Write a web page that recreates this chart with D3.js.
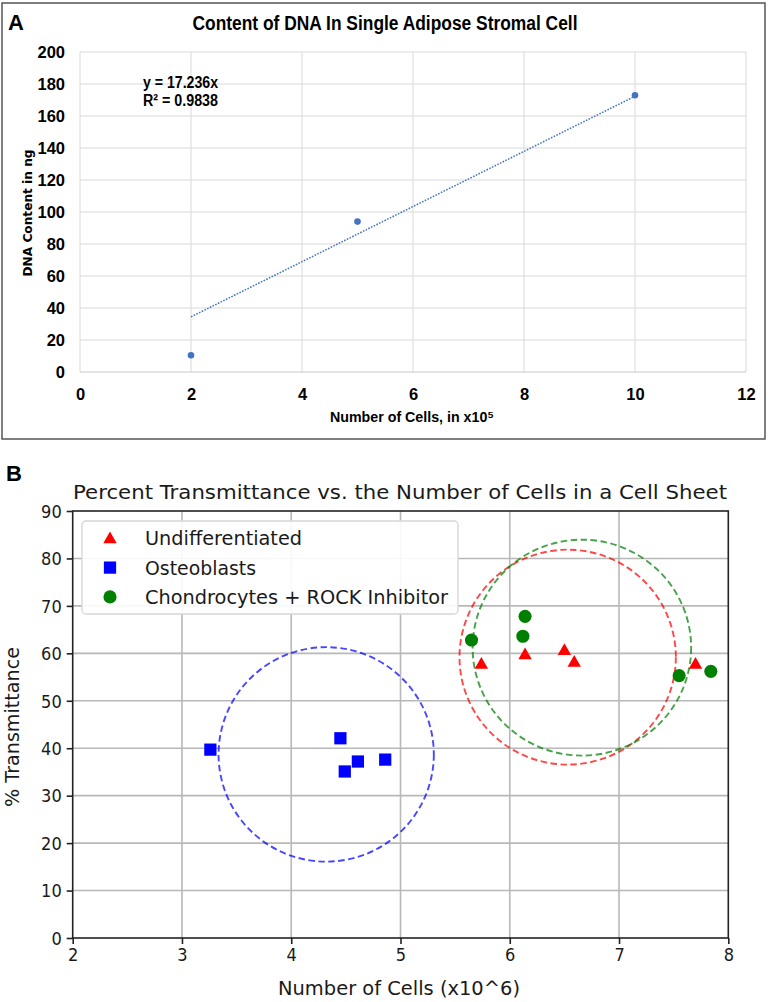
<!DOCTYPE html>
<html>
<head>
<meta charset="utf-8">
<script src="https://cdn.jsdelivr.net/npm/d3@7"></script>
<style>
  html, body { margin: 0; padding: 0; background: #fff; }
  svg { display: block; }
</style>
</head>
<body>
<svg id="chart" width="768" height="1002"></svg>
<script>
// ---------- Panel A data ----------
const aCells = [2, 5, 10];
const aDNA = [10.5, 94, 173];
const aSlope = 17.236;
const aTrendX = [2, 10];
const aXTicks = [0, 2, 4, 6, 8, 10, 12];
const aYTicks = [0, 20, 40, 60, 80, 100, 120, 140, 160, 180, 200];
const aTitle = "Content of DNA In Single Adipose Stromal Cell";
const aXLabel = "Number of Cells, in x10⁵";
const aYLabel = "DNA Content in ng";
const aEquation = ["y = 17.236x", "R² = 0.9838"];

// ---------- Panel B data ----------
const bSeries = ["Undifferentiated", "Osteoblasts", "Chondrocytes + ROCK Inhibitor"];
const bColors = ["#ff0000", "#0000ff", "#008000"];
const undiffX = [5.74, 6.14, 6.50, 6.59, 7.70];
const undiffY = [57.8, 59.8, 60.7, 58.2, 57.8];
const osteoX = [3.26, 4.45, 4.49, 4.61, 4.86];
const osteoY = [39.7, 42.1, 35.1, 37.2, 37.6];
const chondroX = [5.65, 6.12, 6.14, 7.55, 7.84];
const chondroY = [62.8, 63.6, 67.8, 55.3, 56.2];
// dashed rings: [Undifferentiated, Osteoblasts, Chondrocytes]
const ringCx = [6.53, 4.32, 6.66];
const ringCy = [59.2, 38.7, 61.2];
const ringRx = [0.99, 0.985, 1.0];
const ringRy = [22.65, 22.6, 22.75];
const bXTicks = [2, 3, 4, 5, 6, 7, 8];
const bYTicks = [0, 10, 20, 30, 40, 50, 60, 70, 80, 90];
const bTitle = "Percent Transmittance vs. the Number of Cells in a Cell Sheet";
const bXLabel = "Number of Cells (x10^6)";
const bYLabel = "% Transmittance";

const svg = d3.select("#chart");

// =================== PANEL A ===================
const fontA = "'Liberation Sans Narrow', 'Liberation Sans', Arial, sans-serif";
const gA = svg.append("g");
gA.append("rect").attr("x", 2).attr("y", 3).attr("width", 763).attr("height", 436)
  .attr("fill", "none").attr("stroke", "#555").attr("stroke-width", 1.5);

const xA = d3.scaleLinear().domain([0, 12]).range([80, 746]);
const yA = d3.scaleLinear().domain([0, 200]).range([372, 52]);

// gridlines
gA.append("g").selectAll("line").data(aXTicks).join("line")
  .attr("x1", d => xA(d)).attr("x2", d => xA(d))
  .attr("y1", yA(0)).attr("y2", yA(200))
  .attr("stroke", "#d9d9d9").attr("stroke-width", 1);
gA.append("g").selectAll("line").data(aYTicks).join("line")
  .attr("x1", xA(0)).attr("x2", xA(12))
  .attr("y1", d => yA(d)).attr("y2", d => yA(d))
  .attr("stroke", d => d === 0 ? "#c8c8c8" : "#d9d9d9").attr("stroke-width", 1);

// axes labels via d3 axis (no lines)
const axA_y = d3.axisLeft(yA).tickValues(aYTicks).tickSize(0).tickPadding(15);
const gyA = gA.append("g").attr("transform", `translate(${xA(0)},0)`).call(axA_y);
gyA.select(".domain").remove();
gyA.selectAll("text").attr("font-family", fontA).attr("font-weight", "bold")
  .attr("font-size", 16.5).attr("fill", "#000");

const axA_x = d3.axisBottom(xA).tickValues(aXTicks).tickSize(0).tickPadding(16);
const gxA = gA.append("g").attr("transform", `translate(0,${yA(0)})`).call(axA_x);
gxA.select(".domain").remove();
gxA.selectAll("text").attr("font-family", fontA).attr("font-weight", "bold")
  .attr("font-size", 16.5).attr("fill", "#000");

// trendline
gA.append("line")
  .attr("x1", xA(aTrendX[0])).attr("y1", yA(aSlope * aTrendX[0]))
  .attr("x2", xA(aTrendX[1])).attr("y2", yA(aSlope * aTrendX[1]))
  .attr("stroke", "#4472c4").attr("stroke-width", 1.5).attr("stroke-dasharray", "1.6,1.4");

// points
gA.append("g").selectAll("circle").data(aCells).join("circle")
  .attr("cx", d => xA(d)).attr("cy", (d, i) => yA(aDNA[i])).attr("r", 3.3)
  .attr("fill", "#4472c4");

// texts
gA.append("text").attr("x", 8).attr("y", 30).text("A")
  .attr("font-family", "'Liberation Sans', Arial, sans-serif").attr("font-weight", "bold")
  .attr("font-size", 22).attr("fill", "#000");
gA.append("text").attr("x", 385).attr("y", 23).attr("dominant-baseline", "central")
  .attr("text-anchor", "middle").text(aTitle)
  .attr("font-family", fontA).attr("font-weight", "bold").attr("font-size", 19.5)
  .attr("textLength", 385).attr("lengthAdjust", "spacingAndGlyphs");
gA.selectAll("text.eq").data(aEquation).join("text").attr("class", "eq")
  .attr("x", 143).attr("y", (d, i) => 82 + i * 18.5).attr("dominant-baseline", "central")
  .text(d => d).attr("font-family", fontA).attr("font-weight", "bold").attr("font-size", 16)
  .attr("textLength", 75).attr("lengthAdjust", "spacingAndGlyphs");

gA.append("text").attr("x", 330).attr("y", 422).text(aXLabel)
  .attr("font-family", fontA).attr("font-weight", "bold").attr("font-size", 15.5)
  .attr("textLength", 164).attr("lengthAdjust", "spacingAndGlyphs");

gA.append("text").attr("transform", `translate(27,213) rotate(-90)`)
  .attr("text-anchor", "middle").attr("dominant-baseline", "central").text(aYLabel)
  .attr("font-family", "'DejaVu Sans', Verdana, sans-serif").attr("font-weight", "bold")
  .attr("font-size", 12.5).attr("textLength", 127).attr("lengthAdjust", "spacingAndGlyphs");

// =================== PANEL B ===================
const fontB = "'DejaVu Sans Condensed', 'DejaVu Sans', sans-serif";
const gB = svg.append("g");
const xB = d3.scaleLinear().domain([2, 8]).range([72.7, 728.3]);
const yB = d3.scaleLinear().domain([0, 90]).range([938, 511]);

gB.append("text").attr("x", 6).attr("y", 481).text("B")
  .attr("font-family", "'Liberation Sans', Arial, sans-serif").attr("font-weight", "bold")
  .attr("font-size", 22).attr("fill", "#000");

gB.append("text").attr("x", 400).attr("y", 492).attr("dominant-baseline", "central")
  .attr("text-anchor", "middle").text(bTitle)
  .attr("font-family", "'DejaVu Sans', sans-serif").attr("font-size", 19.5).attr("fill", "#1a1a1a")
  .attr("textLength", 654).attr("lengthAdjust", "spacingAndGlyphs");

// grid
gB.append("g").selectAll("line").data(bXTicks.slice(1, -1)).join("line")
  .attr("x1", d => xB(d)).attr("x2", d => xB(d)).attr("y1", yB(0)).attr("y2", yB(90))
  .attr("stroke", "#b8b8b8").attr("stroke-width", 1.6);
gB.append("g").selectAll("line").data(bYTicks.slice(1, -1)).join("line")
  .attr("y1", d => yB(d)).attr("y2", d => yB(d)).attr("x1", xB(2)).attr("x2", xB(8))
  .attr("stroke", "#b8b8b8").attr("stroke-width", 1.6);

// axes
const axB_x = d3.axisBottom(xB).tickValues(bXTicks).tickFormat(d3.format("d"))
  .tickSize(6).tickPadding(4).tickSizeOuter(0);
const gxB = gB.append("g").attr("transform", `translate(0,${yB(0)})`).call(axB_x);
const axB_y = d3.axisLeft(yB).tickValues(bYTicks).tickFormat(d3.format("d"))
  .tickSize(6).tickPadding(5).tickSizeOuter(0);
const gyB = gB.append("g").attr("transform", `translate(${xB(2)},0)`).call(axB_y);
[gxB, gyB].forEach(g => {
  g.select(".domain").remove();
  g.selectAll("line").attr("stroke", "#222").attr("stroke-width", 1.6);
  g.selectAll("text").attr("font-family", fontB).attr("font-size", 18).attr("fill", "#1a1a1a");
});
gyB.selectAll("text").attr("dy", "0.35em");

// frame
gB.append("rect").attr("x", xB(2)).attr("y", yB(90))
  .attr("width", xB(8) - xB(2)).attr("height", yB(0) - yB(90))
  .attr("fill", "none").attr("stroke", "#222").attr("stroke-width", 1.6);

// labels
gB.append("text").attr("x", 399).attr("y", 988).attr("dominant-baseline", "central")
  .attr("text-anchor", "middle").text(bXLabel)
  .attr("font-family", "'DejaVu Sans', sans-serif").attr("font-size", 19).attr("fill", "#1a1a1a")
  .attr("textLength", 242).attr("lengthAdjust", "spacingAndGlyphs");
gB.append("text").attr("transform", `translate(12,727) rotate(-90)`)
  .attr("text-anchor", "middle").attr("dominant-baseline", "central").text(bYLabel)
  .attr("font-family", "'DejaVu Sans', sans-serif").attr("font-size", 19).attr("fill", "#1a1a1a")
  .attr("textLength", 160).attr("lengthAdjust", "spacingAndGlyphs");

// dashed rings
const ringIdx = [0, 1, 2];
gB.append("g").selectAll("ellipse").data(ringIdx).join("ellipse")
  .attr("cx", i => xB(ringCx[i])).attr("cy", i => yB(ringCy[i]))
  .attr("rx", i => xB(ringCx[i] + ringRx[i]) - xB(ringCx[i]))
  .attr("ry", i => yB(ringCy[i] - ringRy[i]) - yB(ringCy[i]))
  .attr("fill", "none").attr("stroke", i => bColors[i]).attr("stroke-opacity", 0.72)
  .attr("stroke-width", 1.9).attr("stroke-dasharray", "6.5,3.5");

// markers
const symTri = d3.symbol().type(d3.symbolTriangle).size(78);
const symSq = d3.symbol().type(d3.symbolSquare).size(150);
const symCir = d3.symbol().type(d3.symbolCircle).size(135);
const seriesPts = [
  { xs: undiffX, ys: undiffY, sym: symTri, color: bColors[0], dy: 1 },
  { xs: osteoX, ys: osteoY, sym: symSq, color: bColors[1], dy: 0 },
  { xs: chondroX, ys: chondroY, sym: symCir, color: bColors[2], dy: 0 }
];
seriesPts.forEach(s => {
  gB.append("g").selectAll("path").data(s.xs).join("path")
    .attr("d", s.sym())
    .attr("transform", (d, i) => `translate(${xB(d)},${yB(s.ys[i]) + s.dy})`)
    .attr("fill", s.color);
});

// legend
const lg = gB.append("g");
lg.append("rect").attr("x", 82).attr("y", 521).attr("width", 376).attr("height", 93)
  .attr("rx", 4).attr("fill", "#fff").attr("fill-opacity", 0.9)
  .attr("stroke", "#d6d6d6").attr("stroke-width", 1.3);
const legSyms = [symTri, symSq, symCir];
const legLens = [157, 111, 303];
bSeries.forEach((name, i) => {
  const cy = 538.3 + i * 29.3;
  lg.append("path").attr("d", legSyms[i]()).attr("transform", `translate(110,${cy + (i === 0 ? 1 : 0)})`)
    .attr("fill", bColors[i]);
  lg.append("text").attr("x", 145).attr("y", cy).attr("dominant-baseline", "central")
    .text(name).attr("font-family", "'DejaVu Sans', sans-serif").attr("font-size", 19)
    .attr("fill", "#1a1a1a").attr("textLength", legLens[i]).attr("lengthAdjust", "spacingAndGlyphs");
});
</script>
</body>
</html>
